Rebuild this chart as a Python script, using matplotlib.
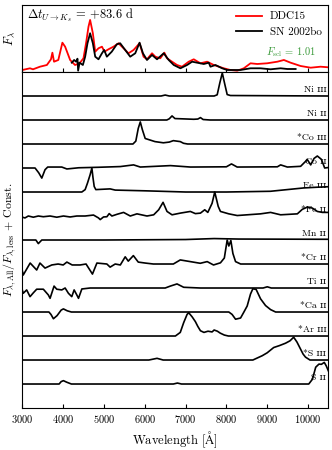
import matplotlib
matplotlib.use("Agg")
import matplotlib.pyplot as plt
import matplotlib.transforms as mtransforms

plt.rcParams['font.family'] = ['cmr10', 'DejaVu Serif']
plt.rcParams['mathtext.fontset'] = 'cm'
plt.rcParams['axes.formatter.use_mathtext'] = True

# ---- top panel: DDC15 model vs SN 2002bo (arbitrary flux units)
wl_model = [3000, 3185, 3260, 3430, 3600, 3700, 3735, 3775, 3880, 3980, 4047, 4170, 4290,
            4400, 4497, 4560, 4620, 4660, 4727, 4785, 4865, 4950, 5012, 5110, 5233, 5356,
            5480, 5600, 5725, 5872, 5970, 6054, 6177, 6258, 6380, 6480, 6545, 6668, 6790,
            6913, 7077, 7200, 7364, 7528, 7692, 7937, 8100, 8265, 8428, 8592, 8757, 9000,
            9250, 9410, 9575, 9820, 10066, 10310, 10500]
fl_model = [1, 2.7, 1.7, 4.3, 6, 11.7, 18.3, 9.3, 11, 28.3, 24.3, 11, 6,
            7.7, 12.7, 27.7, 44.3, 51, 37.7, 19.3, 22.7, 24.3, 19.3, 21.7, 24.3, 27.7,
            22.7, 17.7, 21, 27.7, 14.3, 11.7, 17.7, 14.3, 12.7, 18.3, 12.7, 9.3, 6,
            4.3, 9.3, 11.7, 7.7, 9.3, 6, 2.7, 1, 0.3, 2.7, 7.7, 7, 7.7,
            9.3, 11, 8.3, 5, 3.3, 4.3, 3.7]

wl_obs = [4210, 4268, 4317, 4350, 4366, 4400, 4482, 4538, 4595, 4660, 4727, 4785, 4865,
          4950, 5005, 5070, 5190, 5315, 5397, 5520, 5643, 5766, 5872, 5955, 6054, 6177,
          6300, 6464, 6587, 6710, 6873, 7037, 7160, 7283, 7446, 7569, 7610, 7732, 7897,
          8020, 8348, 8592, 8838, 9084, 9330, 9494, 9698]
fl_obs = [8.3, 11, 9.3, 12.3, 0.3, 8.3, 6, 14.3, 27.7, 37.7, 27.7, 14.3, 11.7,
          17.7, 21, 14.3, 19.3, 26.7, 27.7, 21, 14.3, 17.7, 28.3, 17.7, 11, 16,
          11.7, 17.7, 11, 6, 2.7, 6, 9.3, 8.3, 7, 8.3, 4.3, 6, 2.7,
          1, 1, 2.7, 2.7, 1.7, 2.7, 2, 2]

# ---- bottom panel: F_All / F_less for each ion (relative to its own baseline)
ions = ['Ni ɪɪɪ', 'Ni ɪɪ', '*Co ɪɪɪ', 'Co ɪɪ', 'Fe ɪɪɪ', '*Fe ɪɪ', 'Mn ɪɪ',
        '*Cr ɪɪ', 'Ti ɪɪ', '*Ca ɪɪ', '*Ar ɪɪɪ', '*S ɪɪɪ', 'S ɪɪ']

wl_ni3 = [3000, 6400, 6500, 6600, 7700, 7775, 7840, 7900, 7960, 8020, 8100, 10500]
fl_ni3 = [0, 0, 0.04, 0, 0, 0.05, 0.55, 0.96, 0.5, 0.06, 0.02, 0]

wl_ni2 = [3000, 6540, 6600, 6668, 6740, 6900, 7200, 7300, 7365, 7430, 7600, 10500]
fl_ni2 = [0, 0, 0.05, 0.17, 0.06, 0.05, 0.03, 0.04, 0.1, 0.02, 0, 0]

wl_co3 = [3000, 5710, 5780, 5840, 5890, 5940, 6010, 6250, 6455, 6600, 6700, 6870, 6950, 7050, 10500]
fl_co3 = [0, 0, 0.12, 0.65, 0.92, 0.6, 0.23, 0.1, 0.05, 0.08, 0.14, 0.1, 0.03, 0, 0]

wl_co2 = [3000, 3310, 3400, 3475, 3555, 3620, 3965, 4090, 4380, 4860, 5400, 5725, 5890,
          6630, 7120, 8000, 8125, 8265, 9250, 9330, 9495, 9820, 9985, 10067, 10150,
          10230, 10330, 10410, 10500]
fl_co2 = [0, 0, -0.2, -0.42, -0.07, 0.04, 0.04, -0.04, 0.01, 0.03, 0.06, 0.13, 0.04,
          0.1, 0.04, 0.05, 0.17, 0.04, 0.05, 0.13, 0.04, 0.07, 0.35, 0.13, 0.4,
          0.5, 0.36, 0.0, 0.02]

wl_fe3 = [3000, 4457, 4538, 4595, 4660, 4703, 4730, 4760, 4800, 5150, 5275, 6000,
          7000, 8000, 9080, 9900, 10230, 10500]
fl_fe3 = [0, 0, 0.1, 0.37, 0.72, 1.0, 0.6, 0.23, 0.1, 0.13, 0.08, 0.05,
          0, 0, 0.03, 0.17, 0.2, 0.22]

wl_fe2 = [3000, 3063, 3145, 3268, 3390, 3513, 3678, 3842, 4006, 4170, 4334, 4538, 4743,
          4865, 4907, 4988, 5071, 5128, 5194, 5317, 5480, 5644, 5808, 6054, 6218, 6341,
          6448, 6545, 6668, 6870, 7117, 7240, 7364, 7470, 7545, 7650, 7715, 7800, 7855,
          8060, 8266, 8510, 8838, 9084, 9330, 9740, 9863, 9985, 10108, 10230, 10355, 10500]
fl_fe2 = [-0.05, -0.08, 0, -0.05, 0, -0.03, 0, -0.05, 0, -0.04, 0, 0, 0.04,
          -0.08, -0.15, -0.04, -0.03, 0.1, 0, 0.07, 0.15, 0, 0.09, 0, 0.05, 0.26,
          0.57, 0.19, 0.05, 0.12, 0.19, 0.1, 0.12, 0.26, 0.15, 0.53, 1.0, 0.4, 0.19,
          0.09, 0.02, 0.05, 0.09, 0.15, 0.05, 0.09, 0.28, 0.37, 0.33, 0.19, 0.15, 0.15]

wl_mn2 = [3000, 3330, 3390, 3475, 5000, 7000, 7700, 8300, 10500]
fl_mn2 = [0, 0, -0.15, 0, 0, 0.02, 0.06, 0.04, 0.03]

wl_cr2 = [3000, 3020, 3190, 3350, 3430, 3555, 3720, 3875, 4000, 4090, 4220, 4415, 4560,
          4717, 4826, 5070, 5150, 5275, 5400, 5520, 5595, 5720, 5840, 6010, 6210, 6700,
          6870, 7360, 7530, 7685, 7855, 7950, 8020, 8060, 8110, 8160, 8225, 8350, 10500]
fl_cr2 = [-0.3, -0.46, 0.04, -0.25, 0.04, -0.17, -0.04, 0, -0.04, 0.08, -0.04, -0.04, 0,
          -0.42, 0.04, 0, -0.13, 0, -0.04, 0.3, 0.12, 0.35, 0.08, 0.04, 0, 0,
          0.17, 0.03, 0.1, -0.04, 0.05, 0.25, 1.0, 0.75, 0.98, 0.44, 0.1, 0, 0]

wl_ti2 = [3000, 3020, 3105, 3187, 3268, 3350, 3513, 3636, 3678, 3776, 3842, 3965, 4047,
          4128, 4210, 4268, 4334, 4375, 4457, 4660, 6500, 6626, 6790, 6954, 7364, 8900,
          9003, 9100, 10500]
fl_ti2 = [-0.1, -0.22, -0.08, -0.36, -0.2, -0.05, -0.05, -0.29, -0.43, 0.08, -0.05, -0.08, 0,
          -0.22, -0.36, -0.08, -0.29, -0.43, -0.04, 0, 0, 0.08, 0.17, 0.03, 0, 0,
          0.05, 0, 0]

wl_ca2 = [3000, 3650, 3700, 3760, 3850, 3950, 4005, 4100, 4200, 8060, 8140, 8225, 8348,
          8430, 8510, 8592, 8650, 8730, 8838, 8960, 9084, 9207, 10500]
fl_ca2 = [0, 0, -0.1, -0.28, -0.15, 0.08, 0.13, 0.05, 0, 0, -0.1, -0.3, -0.25,
          0, 0.25, 0.75, 0.97, 0.94, 0.55, 0.27, 0.1, 0, 0]

wl_ar3 = [3000, 6750, 6870, 6954, 7037, 7077, 7160, 7240, 7300, 7364, 7450, 7550, 7650,
          7700, 7780, 7850, 7950, 8050, 10500]
fl_ar3 = [0, 0, 0.15, 0.56, 0.9, 0.97, 0.8, 0.6, 0.4, 0.22, 0.15, 0.2, 0.17,
          0.25, 0.2, 0.12, 0.04, 0, 0]

wl_s3 = [3000, 6100, 6300, 6450, 8650, 8880, 9000, 9160, 9300, 9450, 9560, 9650, 9730,
         9820, 9880, 9940, 10050, 10500]
fl_s3 = [0, 0, 0.07, 0, 0, 0.18, 0.3, 0.52, 0.6, 0.7, 0.8, 0.95, 0.75,
         0.45, 0.25, 0.12, 0, 0]

wl_s2 = [3000, 3900, 3950, 4005, 4080, 4200, 6700, 6800, 6900, 10020, 10110, 10190,
         10270, 10330, 10400, 10450, 10500]
fl_s2 = [0, 0, 0.1, 0.14, 0.08, 0, 0, 0.04, 0, 0, 0.2, 0.7,
         0.83, 0.82, 0.9, 0.75, 0.55]

ion_wl = [wl_ni3, wl_ni2, wl_co3, wl_co2, wl_fe3, wl_fe2, wl_mn2,
          wl_cr2, wl_ti2, wl_ca2, wl_ar3, wl_s3, wl_s2]
ion_fl = [fl_ni3, fl_ni2, fl_co3, fl_co2, fl_fe3, fl_fe2, fl_mn2,
          fl_cr2, fl_ti2, fl_ca2, fl_ar3, fl_s3, fl_s2]

fig = plt.figure(figsize=(3.32, 4.5), dpi=100)
left, right = 0.0675, 0.989
ax1 = fig.add_axes([left, 0.84, right - left, 0.149])
ax2 = fig.add_axes([left, 0.0933, right - left, 0.84 - 0.0933], sharex=ax1)

ax1.plot(wl_model, fl_model, color='red', lw=1.3, label='DDC15')
ax1.plot(wl_obs, fl_obs, color='black', lw=1.3, label='SN 2002bo')
ax1.set_ylim(-1, 66)
ax1.set_yticks([])
ax1.set_ylabel(r'$F_\lambda$', fontsize=9, labelpad=4)
ax1.tick_params(axis='x', direction='in', labelbottom=False, length=3)
ax1.text(0.015, 0.85, r'$\Delta t_{U\rightarrow K_s}$ = +83.6 d', transform=ax1.transAxes,
         fontsize=9, va='center', ha='left')
ax1.legend(loc='upper right', frameon=False, fontsize=8, handlelength=2.3,
           labelspacing=0.5, borderaxespad=0.2, handletextpad=0.7)
ax1.text(0.96, 0.29, r'$F_{\rm scl}$ = 1.01', transform=ax1.transAxes, color='#3a9a3a',
         fontsize=7.5, ha='right', va='center')

n = len(ions)
trans = mtransforms.blended_transform_factory(ax2.transAxes, ax2.transData)
for i, (name, w, f) in enumerate(zip(ions, ion_wl, ion_fl)):
    off = n - i
    ax2.plot(w, [v + off for v in f], color='black', lw=1.2)
    ax2.text(0.993, off + 0.08, name, transform=trans, ha='right', va='bottom', fontsize=7)

ax2.set_xlim(3000, 10500)
ax2.set_ylim(0, 14)
ax2.set_yticks([])
ax2.set_xticks([3000, 4000, 5000, 6000, 7000, 8000, 9000, 10000])
ax2.tick_params(axis='x', direction='in', labelsize=7.5, length=3)
ax2.set_xlabel(r'Wavelength [$\mathrm{\AA}$]', fontsize=9, labelpad=3)
ax2.set_ylabel(r'$F_{\lambda,\mathrm{All}}/F_{\lambda,\mathrm{less}}$ + Const.', fontsize=8.5, labelpad=3)

fig.savefig('out.png', dpi=100)
